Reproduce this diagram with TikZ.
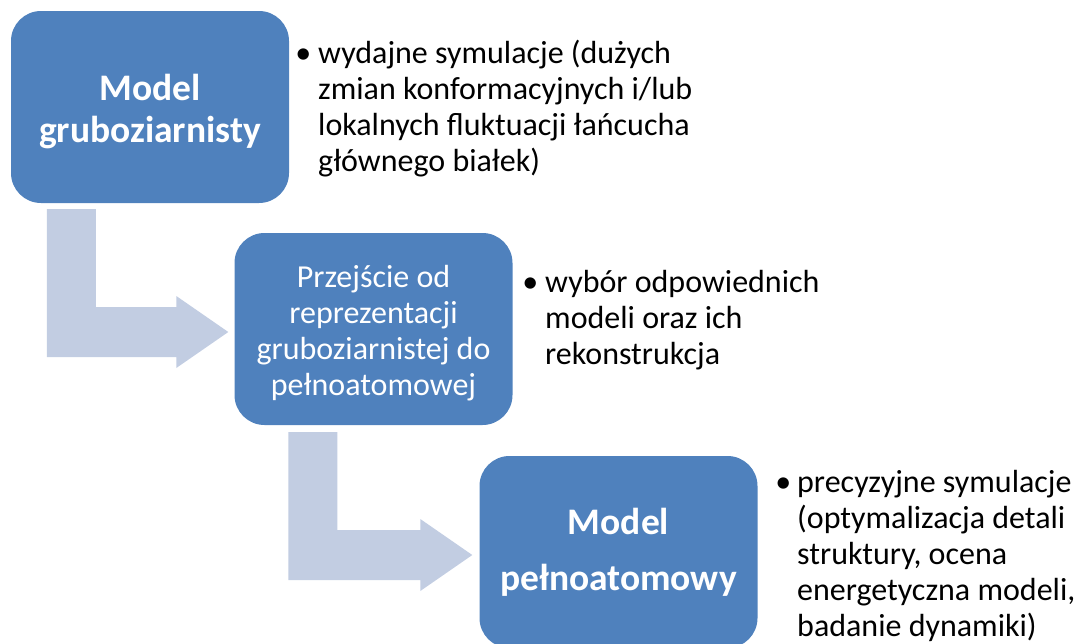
\documentclass[tikz,border=0pt]{standalone}
\usepackage{fontspec}
\setmainfont{Carlito}
\usetikzlibrary{calc}
\definecolor{boxblue}{RGB}{79,129,189}
\definecolor{arrowblue}{RGB}{194,205,226}

% bent arrow from the top of its shaft (#1) to its tip (#2)
\newcommand{\bentarrow}[2]{%
  \fill[bendarrow] (#1) -- ++(49,0) |- ($(#2)+(-52,-25)$) -- ++(0,-11)
    -- (#2) -- ++(-52,36) -- ++(0,-11) -| (#1) -- cycle;}

\begin{document}
\begin{tikzpicture}[x=1pt, y=-1pt,
  stage/.style={fill=boxblue, rounded corners=30pt, minimum width=278pt,
    minimum height=192pt, text=white, align=center, inner sep=0pt},
  bigtext/.style={font=\fontsize{37.5}{42}\selectfont\bfseries},
  midtext/.style={font=\fontsize{32}{36}\selectfont},
  note/.style={anchor=north west, inner sep=0pt, align=left,
    font=\fontsize{32}{36}\selectfont},
  bendarrow/.style={fill=arrowblue}
]
\useasboundingbox (0,0) rectangle (1075,643);

% stages
\node[stage, bigtext] (coarse) at (150,107) {\rule{0pt}{36pt}Model\\gruboziarnisty};
\node[stage, midtext] (switch) at (373.5,329)
  {\rule{0pt}{31pt}Przejście od\\reprezentacji\\gruboziarnistej do\\pełnoatomowej};
\node[stage, bigtext] (full) at (618.5,552) {Model\\[14pt]pełnoatomowy};

% arrows
\coordinate (a1) at ($(coarse.south west)+(36,6)$);
\coordinate (t1) at ($(switch.west)+(-6,3)$);
\coordinate (a2) at ($(switch.south west)+(54,7)$);
\coordinate (t2) at ($(full.west)+(-7,3)$);
\bentarrow{a1}{t1}
\bentarrow{a2}{t2}

% notes
\node[note] (n1) at (318,40) {\llap{\textbullet\hspace{7pt}}wydajne symulacje (dużych\\
  zmian konformacyjnych i/lub\\lokalnych fluktuacji łańcucha\\głównego białek)};
\node[note] (n2) at (545,270) {\llap{\textbullet\hspace{7pt}}wybór odpowiednich\\
  modeli oraz ich\\rekonstrukcja};
\node[note] (n3) at (797,470) {\llap{\textbullet\hspace{6pt}}precyzyjne symulacje\\
  (optymalizacja detali\\struktury, ocena\\energetyczna modeli,\\badanie dynamiki)};
\end{tikzpicture}
\end{document}
